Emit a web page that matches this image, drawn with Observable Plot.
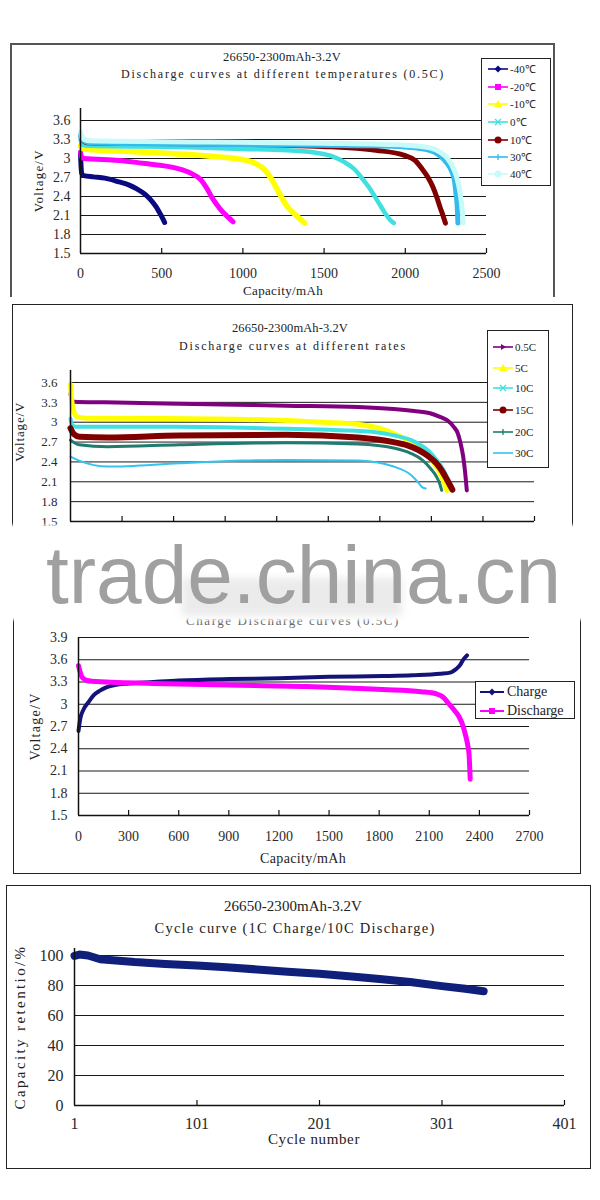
<!DOCTYPE html>
<html><head><meta charset="utf-8">
<script src="https://cdn.jsdelivr.net/npm/d3@7"></script>
<script src="https://cdn.jsdelivr.net/npm/@observablehq/plot@0.6"></script>
<style>
body{margin:0;background:#fff;}
#root{position:relative;width:600px;height:1200px;overflow:hidden;background:#fff;font-family:"Liberation Serif",serif;}
.t{position:absolute;white-space:nowrap;color:#222;line-height:1.2;}
.box{position:absolute;box-sizing:border-box;}
</style></head><body><div id="root"></div>
<script>
// ================= DATA =================
// Chart 1: discharge at different temperatures (capacity mAh, voltage V)
const tempNames = ["-40℃","-20℃","-10℃","0℃","10℃","30℃","40℃"];
const voltTicks1 = [1.5,1.8,2.1,2.4,2.7,3,3.3,3.6];
const capTicks1 = [0,500,1000,1500,2000,2500];
const tM40 = [[0,3.08],[3,2.9],[8,2.76],[20,2.73],[80,2.71],[150,2.69],[237,2.63],[300,2.58],[347,2.52],[400,2.43],[435,2.34],[465,2.24],[490,2.13],[505,2.06],[518,1.99]];
const tM20 = [[0,3.1],[5,3.03],[20,3.0],[100,2.99],[237,2.97],[400,2.92],[501,2.89],[600,2.84],[677,2.77],[743,2.66],[780,2.52],[808,2.39],[840,2.27],[874,2.16],[910,2.07],[940,2.0]];
const tM10 = [[0,3.2],[10,3.16],[50,3.14],[391,3.1],[830,3.03],[1000,2.98],[1050,2.95],[1100,2.89],[1138,2.81],[1170,2.7],[1193,2.6],[1220,2.47],[1248,2.34],[1280,2.22],[1314,2.13],[1350,2.05],[1380,1.98]];
const tP0 = [[0,3.3],[10,3.22],[50,3.2],[611,3.18],[1000,3.15],[1270,3.13],[1450,3.09],[1555,3.03],[1620,2.95],[1687,2.83],[1730,2.7],[1775,2.55],[1810,2.41],[1841,2.28],[1875,2.14],[1907,2.03],[1929,1.98]];
const tP10 = [[0,3.38],[10,3.3],[40,3.25],[400,3.24],[830,3.23],[1489,3.19],[1819,3.13],[1995,3.05],[2060,2.97],[2105,2.83],[2140,2.7],[2170,2.55],[2195,2.38],[2214,2.23],[2232,2.1],[2247,1.98]];
const tP30 = [[0,3.38],[10,3.3],[50,3.25],[1000,3.22],[1800,3.2],[2000,3.18],[2149,3.13],[2210,3.05],[2258,2.92],[2285,2.8],[2302,2.66],[2312,2.45],[2320,2.23],[2324,1.98]];
const tP40 = [[0,3.42],[10,3.33],[50,3.28],[800,3.26],[1500,3.24],[2000,3.21],[2150,3.17],[2214,3.1],[2260,3.0],[2302,2.81],[2320,2.67],[2335,2.49],[2348,2.25],[2357,1.98]];

// Chart 2: discharge at different rates
const rateNames = ["0.5C","5C","10C","15C","20C","30C"];
const voltTicks2 = [1.5,1.8,2.1,2.4,2.7,3,3.3,3.6];
const capTicks2 = [0,300,600,900,1200,1500,1800,2100,2400,2700];
const r05 = [[0,3.43],[5,3.36],[20,3.31],[200,3.3],[633,3.28],[1256,3.25],[1672,3.23],[1880,3.2],[2000,3.17],[2087,3.14],[2150,3.08],[2191,3.03],[2230,2.93],[2254,2.83],[2270,2.68],[2285,2.48],[2296,2.25],[2306,1.97]];
const r5 = [[0,3.57],[5,3.4],[15,3.2],[40,3.08],[100,3.06],[841,3.05],[1464,3.0],[1672,2.97],[1780,2.92],[1880,2.83],[1970,2.72],[2046,2.6],[2090,2.47],[2129,2.33],[2160,2.18],[2191,1.97]];
const r10 = [[0,3.05],[10,2.96],[30,2.93],[600,2.93],[1256,2.9],[1776,2.85],[1900,2.79],[1983,2.73],[2040,2.65],[2087,2.56],[2130,2.43],[2170,2.28],[2200,2.12],[2222,1.97]];
const r15 = [[0,2.91],[20,2.82],[52,2.78],[218,2.77],[633,2.8],[1256,2.81],[1672,2.77],[1880,2.7],[1960,2.65],[2025,2.58],[2080,2.49],[2129,2.38],[2165,2.25],[2191,2.13],[2210,2.04],[2222,1.98]];
const r20 = [[0,2.73],[50,2.66],[218,2.63],[633,2.66],[1256,2.69],[1672,2.67],[1880,2.61],[1980,2.53],[2046,2.43],[2095,2.3],[2129,2.18],[2150,2.06],[2160,1.97]];
const r30 = [[0,2.48],[50,2.42],[218,2.33],[633,2.38],[1000,2.42],[1256,2.43],[1672,2.42],[1880,2.33],[1983,2.2],[2020,2.1],[2046,2.02],[2067,2.0]];

// Chart 3: charge / discharge at 0.5C
const cdNames = ["Charge","Discharge"];
const voltTicks3 = [1.5,1.8,2.1,2.4,2.7,3,3.3,3.6,3.9];
const capTicks3 = [0,300,600,900,1200,1500,1800,2100,2400,2700];
const charge = [[0,2.64],[10,2.8],[30,2.93],[57,3.02],[90,3.12],[126,3.18],[170,3.23],[218,3.26],[300,3.28],[447,3.3],[600,3.32],[905,3.34],[1200,3.35],[1500,3.37],[1822,3.38],[2000,3.39],[2166,3.41],[2230,3.43],[2258,3.47],[2285,3.53],[2303,3.6],[2326,3.66]];
const discharge = [[0,3.52],[8,3.45],[23,3.36],[50,3.32],[80,3.31],[447,3.28],[905,3.26],[1364,3.24],[1822,3.2],[2051,3.17],[2143,3.14],[2190,3.08],[2212,3.02],[2250,2.92],[2281,2.82],[2300,2.72],[2315,2.6],[2330,2.45],[2338,2.33],[2342,2.15],[2345,1.99]];

// Chart 4: cycle curve
const cycleTicks = [1,101,201,301,401];
const retTicks = [0,20,40,60,80,100];
const cycles = [[1,99.8],[5,100.6],[12,100],[22,97.5],[50,95.6],[75,94.4],[101,93.3],[125,92.2],[150,90.7],[175,89.2],[201,87.8],[225,86.2],[250,84.4],[275,82.3],[301,79.6],[320,77.8],[335,76.2]];

// ================= RENDER =================
const root = document.getElementById("root");

function box(l, t, w, h, css) {
  const d = document.createElement("div");
  d.className = "box";
  Object.assign(d.style, {left: l + "px", top: t + "px", width: w + "px", height: h + "px"}, css || {});
  root.appendChild(d);
  return d;
}

function txt(s, cx, cy, size, target, opts = {}) {
  const d = document.createElement("div");
  d.className = "t";
  d.textContent = s;
  d.style.fontSize = size + "px";
  if (opts.font) d.style.fontFamily = opts.font;
  if (opts.color) d.style.color = opts.color;
  root.appendChild(d);
  if (target) {
    const w = d.getBoundingClientRect().width;
    const n = [...s].length;
    d.style.letterSpacing = ((target - w) / n) + "px";
  }
  const w2 = d.offsetWidth, h2 = d.offsetHeight;
  d.style.left = (cx - w2 / 2) + "px";
  d.style.top = (cy - h2 / 2) + "px";
  if (opts.rotate) d.style.transform = "rotate(-90deg)";
  return d;
}

function curveChart(cfg) {
  const {series, colors, widths, xDomain, yDomain, xTicks, yTicks, top, h, ml, mr, mt, mb, fs, yPad, xPad, extend, xLabels, curve} = cfg;
  const ph = h - mt - mb;
  const marks = [Plot.ruleY(yTicks.filter(v => v !== yDomain[0]), {stroke: "#1a1a1a", strokeWidth: 1})];
  series.forEach((d, i) => marks.push(Plot.line(d, {
    x: p => p[0], y: p => p[1], stroke: colors[i], strokeWidth: widths[i],
    curve: curve || "monotone-x", strokeLinejoin: "round", strokeLinecap: "round"
  })));
  marks.push(Plot.ruleY([yDomain[0]], {stroke: "#111", strokeWidth: 1.5}));
  marks.push(Plot.ruleX([xDomain[0]], {stroke: "#111", strokeWidth: 1.5, insetTop: -extend}));
  marks.push(Plot.ruleX(xTicks.slice(1), {stroke: "#111", strokeWidth: 1.2, insetTop: ph - 5}));
  marks.push(Plot.axisY(yTicks, {tickSize: 0, tickPadding: yPad, tickFormat: v => String(v), label: null}));
  if (xLabels) marks.push(Plot.axisX(xTicks, {tickSize: 0, tickPadding: xPad, tickFormat: v => String(v), label: null}));
  const svg = Plot.plot({
    width: 600, height: h, marginLeft: ml, marginRight: mr, marginTop: mt, marginBottom: mb,
    x: {domain: xDomain, axis: xLabels ? undefined : null},
    y: {domain: yDomain},
    style: {fontFamily: "Liberation Serif", fontSize: fs + "px", color: "#2a2a2a", background: "transparent", overflow: "visible"},
    marks
  });
  const wrap = document.createElement("div");
  Object.assign(wrap.style, {position: "absolute", left: "0px", top: top + "px"});
  wrap.appendChild(svg);
  root.appendChild(wrap);
}

function markerSvg(color, kind, w, lw) {
  const cx = w / 2, cy = 6;
  let m = "";
  if (kind === "diamond") m = `<polygon points="${cx},${cy-3.5} ${cx+3.5},${cy} ${cx},${cy+3.5} ${cx-3.5},${cy}" fill="${color}"/>`;
  else if (kind === "square") m = `<rect x="${cx-3}" y="${cy-3}" width="6" height="6" fill="${color}"/>`;
  else if (kind === "triangle") m = `<polygon points="${cx},${cy-4} ${cx+4},${cy+3} ${cx-4},${cy+3}" fill="${color}"/>`;
  else if (kind === "x") m = `<path d="M${cx-3},${cy-3}L${cx+3},${cy+3}M${cx-3},${cy+3}L${cx+3},${cy-3}" stroke="${color}" stroke-width="1.3"/>`;
  else if (kind === "circle") m = `<circle cx="${cx}" cy="${cy}" r="3.5" fill="${color}"/>`;
  else if (kind === "plus") m = `<path d="M${cx},${cy-3}L${cx},${cy+3}" stroke="${color}" stroke-width="1.3"/>`;
  else if (kind === "arrow") m = `<polygon points="${cx+3},${cy} ${cx-2},${cy-3} ${cx-2},${cy+3}" fill="${color}"/>`;
  return `<svg width="${w}" height="12" style="position:absolute;left:0;top:-6px;overflow:visible"><line x1="0" y1="${cy}" x2="${w}" y2="${cy}" stroke="${color}" stroke-width="${lw}"/>${m}</svg>`;
}

function legend(cfg) {
  const {left, top, width, height, names, colors, kinds, rows, lineX, lineW, labelX, fs, lw} = cfg;
  box(left, top, width, height, {border: "1px solid #222", background: "#fff"});
  names.forEach((n, i) => {
    const sw = document.createElement("div");
    Object.assign(sw.style, {position: "absolute", left: lineX + "px", top: rows[i] + "px", width: lineW + "px", height: "0px"});
    sw.innerHTML = markerSvg(colors[i], kinds[i], lineW, lw);
    root.appendChild(sw);
    const t = document.createElement("div");
    t.className = "t";
    t.textContent = n;
    Object.assign(t.style, {fontSize: fs + "px", left: labelX + "px", color: "#222"});
    root.appendChild(t);
    t.style.top = (rows[i] - t.offsetHeight / 2) + "px";
  });
}

// ---------- frames ----------
box(10, 43, 545, 254, {borderLeft: "2px solid #555", borderTop: "2px solid #555", borderRight: "2px solid #555"});
box(12, 304, 561, 240, {borderLeft: "1.5px solid #222", borderTop: "1.5px solid #222", borderRight: "1.5px solid #222"});
box(13, 590, 568, 284, {borderLeft: "1.5px solid #222", borderBottom: "1.5px solid #222", borderRight: "1.5px solid #222"});
box(6, 885, 585, 284, {border: "1.5px solid #222"});

// ---------- Chart 1 ----------
const c1Colors = ["#0a0a80", "#ff00ff", "#ffff00", "#40e0e0", "#800000", "#33bbee", "#c8fafa"];
curveChart({
  series: [tM40, tM20, tM10, tP0, tP10, tP30, tP40],
  colors: c1Colors,
  widths: [5, 5, 5.5, 4.5, 5, 5, 5],
  xDomain: [0, 2500], yDomain: [1.5, 3.6], xTicks: capTicks1, yTicks: voltTicks1,
  top: 100, h: 183, ml: 80, mr: 114, mt: 20, mb: 30, fs: 14, yPad: 10, xPad: 15, extend: 12, xLabels: true
});
txt("26650-2300mAh-3.2V", 282, 57, 12.5, 118);
txt("Discharge curves at different temperatures (0.5C)", 283, 74, 12, 324);
txt("Voltage/V", 38, 181, 13, 63, {rotate: true});
txt("Capacity/mAh", 283, 291, 13, 80);
legend({
  left: 481, top: 58, width: 70, height: 128, names: tempNames,
  colors: c1Colors,
  kinds: ["diamond", "square", "triangle", "x", "circle", "plus", "circle"],
  rows: [69, 87, 104, 122, 140, 157, 174], lineX: 488, lineW: 20, labelX: 510, fs: 11, lw: 1.6
});

// ---------- Chart 2 ----------
const c2Colors = ["#800080", "#ffff00", "#40e0e0", "#800000", "#1e7b6e", "#33c4f0"];
curveChart({
  series: [r05, r5, r10, r15, r20, r30],
  colors: c2Colors,
  widths: [4, 5, 4, 6, 3, 2],
  xDomain: [0, 2700], yDomain: [1.5, 3.6], xTicks: capTicks2, yTicks: voltTicks2,
  top: 360, h: 170, ml: 70, mr: 66, mt: 22, mb: 9, fs: 13, yPad: 13, xPad: 14, extend: 12, xLabels: false
});
txt("26650-2300mAh-3.2V", 290, 328, 12.5, 116);
txt("Discharge curves at different rates", 293, 346, 12, 228);
txt("Voltage/V", 20, 432, 13, 60, {rotate: true});
legend({
  left: 487, top: 330, width: 62, height: 138, names: rateNames,
  colors: c2Colors,
  kinds: ["arrow", "triangle", "x", "circle", "plus", "none"],
  rows: [347, 368, 388, 410, 432, 453], lineX: 493, lineW: 20, labelX: 515, fs: 11, lw: 1.6
});

// ---------- Chart 3 ----------
txt("Charge Discharge curves (0.5C)", 293, 621, 13, 214, {color: "#666"});
curveChart({
  series: [charge, discharge],
  colors: ["#141478", "#ff00ff"],
  widths: [4, 5],
  xDomain: [0, 2700], yDomain: [1.5, 3.9], xTicks: capTicks3, yTicks: voltTicks3,
  top: 620, h: 235, ml: 78, mr: 71, mt: 17, mb: 40, fs: 14, yPad: 11, xPad: 16, extend: 0, xLabels: true
});
txt("Voltage/V", 36, 726, 14, 68, {rotate: true});
txt("Capacity/mAh", 303, 859, 14, 86);
legend({
  left: 475, top: 681, width: 100, height: 38, names: cdNames,
  colors: ["#141478", "#ff00ff"], kinds: ["diamond", "square"],
  rows: [692, 711], lineX: 480, lineW: 24, labelX: 507, fs: 14, lw: 2
});

// ---------- Chart 4 ----------
curveChart({
  series: [cycles],
  colors: ["#0f1f7a"],
  widths: [8],
  xDomain: [1, 401], yDomain: [0, 100], xTicks: cycleTicks, yTicks: retTicks,
  top: 940, h: 195, ml: 74, mr: 36, mt: 15, mb: 30, fs: 16, yPad: 11, xPad: 12, extend: 7, xLabels: true, curve: "linear"
});
txt("26650-2300mAh-3.2V", 293, 906, 15, 138);
txt("Cycle curve (1C Charge/10C Discharge)", 295, 928, 14.5, 281);
txt("Capacity retentio/%", 19, 1027, 15, 165, {rotate: true});
txt("Cycle number", 314, 1139, 15, 92);

// ---------- watermark band ----------
box(0, 527, 600, 91, {background: "#fff", boxShadow: "0 0 3px 2px #fff"});
box(182, 578, 220, 38, {background: "rgba(0,0,0,0.08)", filter: "blur(4px)"});
const wm = document.createElementNS("http://www.w3.org/2000/svg", "svg");
wm.setAttribute("width", "600"); wm.setAttribute("height", "110");
Object.assign(wm.style, {position: "absolute", left: "0px", top: "520px"});
const wt = document.createElementNS("http://www.w3.org/2000/svg", "text");
wt.setAttribute("x", "46"); wt.setAttribute("y", "83");
wt.setAttribute("textLength", "515"); wt.setAttribute("lengthAdjust", "spacingAndGlyphs");
wt.setAttribute("font-family", "Liberation Sans, Arial, sans-serif");
wt.setAttribute("font-size", "82"); wt.setAttribute("fill", "#a0a0a0");
wt.textContent = "trade.china.cn";
wm.appendChild(wt);
root.appendChild(wm);
</script></body></html>
